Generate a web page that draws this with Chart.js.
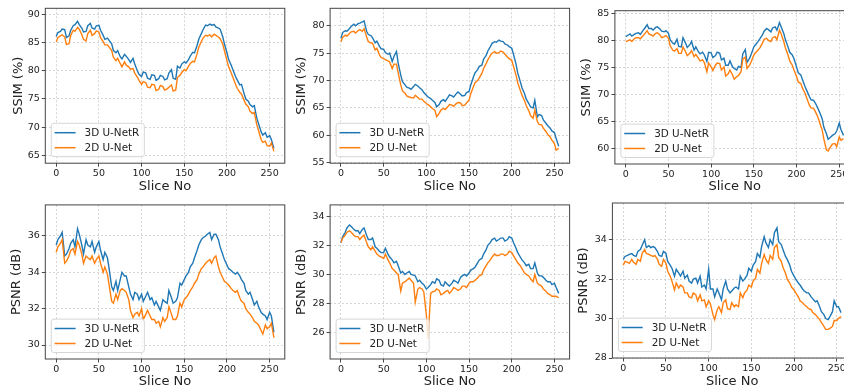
<!DOCTYPE html>
<html>
<head>
<meta charset="utf-8">
<script src="https://cdn.jsdelivr.net/npm/chart.js@4.4.1/dist/chart.umd.min.js"></script>
<style>
  html, body { margin: 0; padding: 0; background: #fff; width: 844px; height: 388px; overflow: hidden; }
  canvas { position: absolute; }
</style>
</head>
<body>
<script>
// Slice numbers (x values), one row = 25 slices
const slices = [
  0, 2, 5, 7, 10, 12, 15, 17, 20, 22,
  25, 27, 30, 32, 35, 37, 40, 42, 45, 47,
  50, 52, 55, 57, 60, 62, 65, 67, 70, 72,
  75, 77, 80, 82, 85, 87, 90, 92, 95, 97,
  100, 102, 105, 107, 110, 112, 115, 117, 120, 122,
  125, 127, 130, 132, 135, 137, 140, 142, 145, 147,
  150, 152, 155, 157, 160, 162, 165, 167, 170, 172,
  175, 177, 180, 182, 185, 187, 190, 192, 195, 197,
  200, 202, 205, 207, 210, 212, 215, 217, 220, 222,
  225, 227, 230, 232, 235, 237, 240, 242, 245, 247,
  250, 252, 255
];

const seriesNames = ['3D U-NetR', '2D U-Net'];
const xTicks = [0, 50, 100, 150, 200, 250];

// SSIM (%) - left
const ssim3dA = [
  86.1, 86.8, 87.0, 87.4, 87.3, 85.9, 86.2, 87.2, 88.0, 88.2,
  88.8, 88.2, 87.6, 86.9, 87.0, 88.0, 88.4, 87.6, 87.4, 88.0,
  88.1, 87.2, 86.3, 85.6, 85.8, 85.4, 84.8, 83.6, 83.2, 83.6,
  82.5, 82.1, 82.9, 82.6, 82.0, 81.5, 82.2, 81.2, 80.0, 79.4,
  79.0, 79.8, 79.6, 78.7, 78.5, 79.3, 79.2, 78.3, 78.6, 79.2,
  79.0, 78.4, 78.6, 79.6, 80.2, 78.7, 78.5, 80.8, 80.5, 81.2,
  81.6, 81.4, 82.0, 82.6, 83.3, 83.2, 84.5, 85.6, 86.6, 87.3,
  88.1, 88.0, 88.3, 88.1, 88.2, 87.8, 87.6, 87.4, 86.1, 84.8,
  83.2, 82.0, 81.0, 80.2, 79.0, 78.4, 77.5, 77.6, 76.0, 75.0,
  74.6, 74.0, 73.6, 73.8, 71.6, 70.6, 69.2, 68.6, 69.0, 68.2,
  68.5, 67.8, 66.2
];
const ssim2dA = [
  85.1, 85.9, 86.2, 86.4, 86.0, 84.7, 84.8, 86.3, 87.2, 87.0,
  87.7, 87.4, 86.4, 85.6, 85.3, 86.6, 87.2, 86.3, 86.6, 87.1,
  86.9, 85.9, 85.2, 84.6, 84.6, 84.2, 83.6, 82.4, 81.8, 82.2,
  81.3, 80.7, 81.6, 81.0, 80.7, 80.3, 80.4, 79.6, 78.9, 78.3,
  77.6, 78.1, 77.9, 77.1, 77.0, 77.6, 77.5, 76.5, 76.7, 77.4,
  77.2, 76.6, 76.8, 77.1, 77.5, 76.4, 76.6, 78.8, 79.2, 79.7,
  80.2, 80.0, 80.8, 81.3, 81.7, 81.6, 83.0, 84.2, 85.2, 85.8,
  86.3, 86.2, 86.4, 86.0, 86.5, 86.3, 86.0, 85.7, 84.8, 83.6,
  81.8, 80.7, 79.6, 78.8, 77.6, 76.9, 76.2, 75.9, 74.8, 74.1,
  73.6, 72.8, 72.4, 72.6, 70.4, 69.4, 67.8, 67.3, 67.5, 66.7,
  66.6, 67.2, 65.7
];
const ssimTicksA = [65, 70, 75, 80, 85, 90];

// SSIM (%) - middle
const ssim3dB = [
  77.7, 78.8, 79.1, 79.0, 79.5, 79.9, 80.3, 80.0, 80.4, 80.5,
  80.7, 80.9, 79.0, 78.4, 78.2, 77.8, 76.9, 77.2, 76.3, 75.8,
  75.7, 75.1, 74.8, 75.0, 73.5, 74.4, 75.3, 73.2, 71.0, 69.8,
  69.2, 68.8, 68.6, 68.4, 68.9, 69.3, 69.0, 68.7, 68.3, 67.8,
  67.3, 67.0, 66.7, 66.4, 66.0, 65.2, 65.6, 66.2, 66.5, 66.2,
  66.9, 67.4, 67.2, 67.0, 67.6, 67.9, 67.5, 67.2, 67.3, 67.8,
  68.0, 69.2, 70.6, 71.4, 72.0, 72.6, 72.8, 73.9, 74.6, 75.4,
  76.2, 76.8, 77.1, 77.0, 77.4, 77.2, 77.1, 76.7, 76.5, 76.2,
  75.9, 74.8, 73.0, 71.4, 69.8, 68.7, 67.6, 66.6, 65.8, 65.2,
  65.0, 66.4, 63.4, 63.8, 63.6, 62.8, 62.2, 61.8, 61.3, 60.8,
  60.5, 59.4, 58.0
];
const ssim2dB = [
  77.1, 77.9, 78.3, 78.1, 78.6, 78.9, 79.0, 78.7, 79.1, 79.3,
  79.0, 79.5, 78.0, 77.1, 76.9, 76.8, 75.6, 75.9, 74.7, 74.2,
  74.0, 73.8, 73.6, 73.4, 72.2, 73.0, 73.0, 71.4, 69.2, 68.1,
  67.7, 67.2, 67.0, 66.9, 66.8, 67.3, 66.9, 66.6, 66.6, 66.2,
  65.8, 65.6, 65.2, 64.9, 64.6, 63.4, 64.0, 64.6, 64.9, 64.7,
  65.2, 65.6, 65.5, 65.3, 65.8, 66.0, 65.9, 65.4, 65.5, 65.9,
  66.4, 67.6, 68.8, 69.6, 70.0, 70.5, 71.3, 72.2, 73.1, 73.8,
  74.6, 75.0, 75.3, 75.0, 75.1, 75.4, 75.2, 74.8, 74.3, 74.0,
  73.7, 72.6, 71.0, 69.6, 68.2, 67.3, 66.3, 65.4, 64.5, 63.6,
  63.1, 64.6, 62.5, 62.0, 61.9, 61.3, 60.7, 60.2, 59.7, 59.1,
  58.5, 57.3, 57.6
];
const ssimTicksB = [55, 60, 65, 70, 75, 80];

// SSIM (%) - right
const ssim3dC = [
  80.8, 81.0, 81.3, 80.9, 81.2, 81.4, 81.5, 81.2, 81.9, 82.3,
  83.0, 82.3, 82.3, 82.0, 82.5, 82.6, 82.2, 81.8, 81.7, 81.9,
  81.4, 80.2, 79.6, 79.4, 80.3, 79.0, 78.9, 80.6, 79.6, 78.8,
  79.3, 79.9, 78.3, 78.9, 78.0, 77.6, 77.9, 77.4, 76.2, 77.9,
  77.8, 76.9, 77.3, 77.9, 77.7, 76.5, 76.8, 75.5, 75.5, 76.3,
  75.2, 74.9, 74.6, 75.3, 75.1, 77.6, 78.4, 76.0, 76.8, 77.6,
  78.9, 79.3, 79.9, 80.4, 81.1, 81.8, 82.3, 82.1, 81.7, 82.4,
  82.6, 82.0, 83.4, 82.6, 81.4, 80.2, 78.9, 77.9, 77.4, 76.7,
  75.2, 74.1, 73.7, 72.8, 71.5, 70.8, 69.7, 69.1, 69.0, 68.5,
  67.5, 66.8, 65.6, 64.0, 62.8, 61.8, 62.2, 62.5, 62.8, 63.3,
  64.8, 63.6, 62.5
];
const ssim2dC = [
  79.9, 80.0, 80.2, 79.9, 80.4, 80.6, 80.6, 80.4, 80.9, 81.3,
  81.9, 81.3, 81.1, 80.9, 81.4, 81.5, 81.1, 80.6, 80.8, 81.0,
  80.5, 79.1, 78.3, 78.1, 78.6, 77.7, 77.7, 78.9, 78.0, 77.3,
  77.7, 78.2, 77.1, 77.5, 76.8, 76.3, 76.5, 76.0, 74.3, 75.9,
  75.2, 74.5, 75.5, 75.9, 75.8, 74.6, 75.2, 73.5, 73.9, 74.6,
  73.7, 72.9, 73.4, 73.6, 74.3, 76.6, 77.0, 74.9, 75.5, 76.2,
  77.4, 77.8, 78.3, 78.7, 79.6, 80.3, 80.5, 80.1, 79.9, 80.6,
  80.8, 80.2, 82.0, 81.3, 79.9, 78.7, 77.4, 76.3, 75.5, 74.6,
  73.4, 72.4, 72.1, 71.2, 70.3, 69.4, 68.1, 67.6, 67.5, 66.9,
  65.9, 64.9, 63.5, 61.8, 59.8, 59.6, 60.4, 60.9, 61.0, 60.4,
  62.2, 61.6, 61.9
];
const ssimTicksC = [60, 65, 70, 75, 80, 85];

// PSNR (dB) - left
const psnr3dA = [
  35.5, 35.8, 36.0, 36.2, 34.9, 35.0, 35.3, 35.6, 35.8, 35.4,
  36.4, 36.1, 35.5, 35.0, 35.8, 35.5, 35.4, 35.7, 35.1, 35.4,
  35.7, 35.2, 34.7, 35.1, 34.8, 34.2, 33.2, 33.0, 33.5, 33.0,
  33.6, 34.0, 33.8, 33.8, 33.2, 32.8, 32.5, 32.9, 32.8, 32.5,
  32.8, 32.4, 32.7, 32.9, 32.5, 32.6, 32.2, 32.4, 32.1, 31.9,
  32.5, 32.4, 32.3, 33.0, 32.6, 32.3, 32.4, 32.6, 33.4, 33.3,
  33.6, 33.8, 34.0, 34.3, 34.5, 34.8, 35.2, 35.5, 35.8, 35.9,
  36.0, 36.1, 36.2, 35.8, 36.1, 36.1, 35.8, 35.4, 35.0, 34.7,
  34.4, 34.2, 34.1, 34.0, 33.9, 34.0, 33.8, 33.6, 33.4, 33.0,
  32.8, 32.9, 32.5, 32.2, 32.4, 32.1, 31.8, 31.7, 31.6, 31.4,
  31.8, 31.6, 30.7
];
const psnr2dA = [
  35.1, 35.4, 35.6, 35.8, 34.5, 34.6, 34.9, 35.2, 35.3, 35.0,
  35.7, 35.5, 35.0, 34.5, 34.9, 34.8, 34.7, 34.9, 34.5, 34.7,
  34.9, 34.5, 34.0, 34.3, 33.9, 33.3, 32.4, 32.3, 32.8, 32.5,
  33.0, 33.1, 33.0, 32.9, 32.5, 31.9, 31.5, 31.7, 31.8, 31.6,
  32.0, 31.4, 31.7, 31.9, 31.6, 31.4, 31.4, 31.2, 31.3, 31.0,
  31.5, 31.3, 31.5, 32.1, 31.7, 31.4, 31.4, 31.6, 32.3, 32.1,
  32.5, 32.6, 32.8, 33.0, 33.2, 33.4, 33.6, 33.9, 34.2, 34.3,
  34.5, 34.6, 34.7, 34.5, 34.8, 34.9, 34.3, 34.0, 33.7, 33.5,
  33.4, 33.3, 33.1, 33.0, 32.9, 33.0, 32.6, 32.4, 32.3, 32.0,
  31.8, 31.7, 31.5, 31.3, 31.2, 31.1, 30.8, 30.6, 31.1, 30.9,
  31.0, 31.2, 30.4
];
const psnrTicksA = [30, 32, 34, 36];

// PSNR (dB) - middle
const psnr3dB = [
  32.2, 32.6, 32.9, 33.2, 33.4, 33.3, 33.1, 33.0, 33.0, 32.8,
  33.1, 33.2, 32.7, 32.4, 32.4, 32.5, 31.9, 31.8, 31.6, 31.5,
  31.5, 31.8, 31.4, 31.2, 31.0, 30.8, 30.9, 30.6, 30.1, 30.2,
  30.0, 30.1, 30.2, 30.0, 29.95, 29.9, 29.5, 29.6, 29.4, 29.3,
  29.0, 29.1, 29.3, 29.5, 29.4, 29.7, 29.6, 29.3, 29.2, 29.5,
  29.3, 29.2, 29.4, 29.6, 29.5, 29.4, 29.8, 29.9, 30.0, 29.9,
  30.1, 30.3, 30.4, 30.5, 30.8, 31.0, 31.1, 31.4, 31.7, 32.0,
  32.2, 32.4, 32.5, 32.3, 32.4, 32.5, 32.5, 32.3, 32.4, 32.6,
  32.5, 32.2, 31.8, 31.5, 31.2, 31.0, 30.8, 30.6, 30.7, 30.4,
  30.4, 30.8, 30.1, 29.9, 29.9, 29.8, 29.6, 29.5, 29.5, 29.3,
  29.4, 29.1, 28.7
];
const psnr2dB = [
  32.2, 32.5, 32.7, 32.9, 33.0, 32.9, 32.7, 32.6, 32.6, 32.4,
  32.6, 32.7, 32.2, 31.9, 31.7, 31.9, 31.6, 31.4, 31.25, 31.2,
  31.1, 31.4, 31.0, 30.8, 30.4, 30.3, 30.1, 30.0, 28.85, 29.4,
  29.5, 29.6, 29.75, 29.6, 29.4, 28.1, 29.0, 29.1, 29.0, 28.8,
  27.2, 25.6, 28.7, 28.8, 28.85, 29.0, 28.9, 28.6, 28.7, 28.8,
  28.9, 28.7, 28.9, 29.1, 29.0, 28.9, 29.0, 29.2, 29.2, 29.1,
  29.4, 29.5, 29.5, 29.6, 29.75, 29.9, 30.0, 30.3, 30.6, 30.8,
  31.0, 31.2, 31.4, 31.3, 31.3, 31.4, 31.4, 31.3, 31.4, 31.6,
  31.5, 31.3, 31.0, 30.8, 30.6, 30.4, 30.1, 30.0, 29.9, 29.7,
  29.5, 30.0, 29.4, 29.3, 29.2, 29.0, 28.85, 28.7, 28.6, 28.5,
  28.5, 28.5, 28.4
];
const psnrTicksB = [26, 28, 30, 32, 34];

// PSNR (dB) - right
const psnr3dC = [
  33.0, 33.15, 33.2, 33.25, 33.3, 33.2, 33.15, 33.4, 33.5, 33.7,
  34.0, 33.6, 33.7, 33.6, 33.65, 33.6, 33.4, 33.2, 33.15, 33.4,
  33.3, 32.9, 32.7, 32.55, 32.15, 32.5, 32.3, 32.15, 32.4, 32.05,
  32.2, 31.9, 31.8, 32.0, 32.05, 31.8, 32.15, 31.6, 31.7, 31.5,
  32.5, 31.5, 31.5, 31.1, 31.5, 31.3, 30.95, 31.5, 31.9, 31.5,
  31.3, 31.4, 31.55, 31.6, 31.5, 32.15, 31.9, 32.0, 32.2, 32.55,
  32.4, 32.7, 32.9, 33.3, 33.1, 33.65, 34.15, 33.85, 33.6, 34.0,
  33.75, 34.35, 34.6, 33.9, 33.75, 33.5, 33.15, 33.0, 32.7, 32.4,
  32.15, 32.0, 31.8, 31.7, 31.5, 31.4, 31.3, 31.3, 31.1, 31.0,
  30.85, 30.9, 30.6, 30.35, 30.2, 30.0, 29.95, 30.1, 30.35, 30.9,
  30.6, 30.6, 30.3
];
const psnr2dC = [
  32.7, 32.9, 32.85, 32.8, 33.0, 32.85, 32.75, 33.0, 32.9, 33.3,
  33.5, 33.3, 33.25, 33.2, 33.15, 33.2, 33.0, 32.75, 32.65, 33.0,
  32.8, 32.4, 32.15, 31.9, 31.45, 31.8, 31.55, 31.7, 31.6, 31.3,
  31.3, 31.1, 31.05, 31.3, 31.2, 30.9, 31.2, 30.9, 30.95, 30.6,
  30.9, 30.75, 30.2, 29.95, 30.45, 30.6, 30.3, 30.8, 30.95, 30.5,
  30.45, 30.8, 30.6, 30.7, 30.6, 31.3, 31.05, 31.3, 31.45, 31.7,
  31.6, 31.9, 32.05, 32.5, 32.3, 32.8, 33.25, 33.0, 32.8, 33.2,
  33.0, 33.6, 33.75, 33.1, 32.9, 32.6, 32.3, 32.0, 31.8, 31.6,
  31.45, 31.3, 31.1, 30.9, 30.8, 30.7, 30.6, 30.5, 30.45, 30.3,
  30.2, 30.1, 29.95, 29.8, 29.6, 29.45, 29.45, 29.5, 29.6, 29.9,
  29.9, 30.0, 30.1
];
const psnrTicksC = [28, 30, 32, 34];

const BLUE = '#1f77b4';
const ORANGE = '#ff7f0e';
const TEXT = '#222';
const FONT = '"DejaVu Sans", sans-serif';
const TITLE_SIZE = 13;
const LH = TITLE_SIZE * 1.2;

// box = [left, top, right, bottom] of the axes frame, tx/ty = axis title centres
const panels = [
  { title: 'SSIM (%)', a: ssim3dA, b: ssim2dA, yMin: 63.6, yMax: 91.1, yTicks: ssimTicksA, box: [45.3, 8.3, 284.8, 163.2], tx: 18.3, ty: 187 },
  { title: 'SSIM (%)', a: ssim3dB, b: ssim2dB, yMin: 54.9, yMax: 83.2, yTicks: ssimTicksB, box: [330.1, 8.3, 569.6, 163.2], tx: 301.7, ty: 187 },
  { title: 'SSIM (%)', a: ssim3dC, b: ssim2dC, yMin: 57.2, yMax: 85.6, yTicks: ssimTicksC, box: [614.9, 10.7, 854.4, 164], tx: 586.7, ty: 186.5 },
  { title: 'PSNR (dB)', a: psnr3dA, b: psnr2dA, yMin: 29.23, yMax: 37.71, yTicks: psnrTicksA, box: [45.3, 204.9, 284.8, 359], tx: 16.7, ty: 382 },
  { title: 'PSNR (dB)', a: psnr3dB, b: psnr2dB, yMin: 24.19, yMax: 34.78, yTicks: psnrTicksB, box: [330.1, 204.9, 569.6, 359], tx: 301.7, ty: 382 },
  { title: 'PSNR (dB)', a: psnr3dC, b: psnr2dC, yMin: 28, yMax: 35.86, yTicks: psnrTicksC, box: [612.4, 203, 851.9, 358], tx: 584, ty: 382 }
];

// axes frame + legend inside the lower-left corner
const frameLegend = {
  id: 'frameLegend',
  afterDraw(chart) {
    const { ctx, chartArea: a } = chart;
    ctx.save();
    ctx.strokeStyle = '#444';
    ctx.lineWidth = 1;
    ctx.strokeRect(a.left, a.top, a.right - a.left, a.bottom - a.top);

    const fs = 10.4;
    ctx.font = fs + 'px ' + FONT;
    const textW = Math.max(...seriesNames.map(n => ctx.measureText(n).width));
    const h = 33.4;
    const w = 33.3 + textW + 5;
    const x0 = a.left + 6;
    const y0 = a.bottom - 6.5 - h;
    ctx.beginPath();
    ctx.roundRect(x0, y0, w, h, 2.5);
    ctx.fillStyle = 'rgba(255,255,255,0.8)';
    ctx.fill();
    ctx.strokeStyle = '#d6d6d6';
    ctx.lineWidth = 1;
    ctx.stroke();

    const colors = [BLUE, ORANGE];
    seriesNames.forEach((n, i) => {
      const y = y0 + 9.4 + i * 15;
      ctx.beginPath();
      ctx.moveTo(x0 + 3.3, y);
      ctx.lineTo(x0 + 24.3, y);
      ctx.strokeStyle = colors[i];
      ctx.lineWidth = 1.5;
      ctx.stroke();
      ctx.fillStyle = TEXT;
      ctx.textBaseline = 'middle';
      ctx.textAlign = 'left';
      ctx.fillText(n, x0 + 33.3, y + 0.5);
    });
    ctx.restore();
  }
};

Chart.defaults.font.family = FONT;
Chart.defaults.color = TEXT;

panels.forEach(p => {
  const [l, t, r, b] = p.box;
  const cl = Math.floor(p.tx - LH / 2);
  const ct = Math.floor(t) - 2;
  const cr = Math.ceil(r) + 2;
  const cb = Math.ceil(p.ty + LH / 2);

  const cv = document.createElement('canvas');
  cv.width = cr - cl;
  cv.height = cb - ct;
  cv.style.left = cl + 'px';
  cv.style.top = ct + 'px';
  cv.style.width = (cr - cl) + 'px';
  cv.style.height = (cb - ct) + 'px';
  document.body.appendChild(cv);

  const gridOpts = {
    color: '#cccccc',
    lineWidth: 0.8,
    drawTicks: true,
    tickLength: 3.5,
    tickColor: '#333',
    tickWidth: 0.9,
    tickBorderDash: []
  };

  new Chart(cv, {
    type: 'line',
    data: {
      datasets: [
        { label: seriesNames[0], data: slices.map((x, i) => ({ x: x, y: p.a[i] })), borderColor: BLUE, order: 1 },
        { label: seriesNames[1], data: slices.map((x, i) => ({ x: x, y: p.b[i] })), borderColor: ORANGE, order: 0 }
      ]
    },
    options: {
      responsive: false,
      animation: false,
      devicePixelRatio: 1,
      layout: { padding: { left: 0, top: t - ct, right: cr - r, bottom: 0 } },
      elements: {
        point: { radius: 0 },
        line: { borderWidth: 1.4, tension: 0, fill: false }
      },
      plugins: { legend: { display: false }, tooltip: { enabled: false } },
      scales: {
        x: {
          type: 'linear',
          min: -12.75,
          max: 267.75,
          afterBuildTicks: s => { s.ticks = xTicks.map(v => ({ value: v })); },
          afterFit: s => { s.height = cb - b; s.paddingLeft = 0; s.paddingRight = 0; },
          ticks: { font: { size: 9.5 }, padding: 1, maxRotation: 0, autoSkip: false, callback: v => String(v) },
          grid: gridOpts,
          border: { display: false, dash: [2, 2] },
          title: {
            display: true, text: 'Slice No', color: TEXT,
            font: { size: TITLE_SIZE },
            padding: { top: 0, bottom: cb - LH / 2 - p.ty }
          }
        },
        y: {
          type: 'linear',
          min: p.yMin,
          max: p.yMax,
          afterBuildTicks: s => { s.ticks = p.yTicks.map(v => ({ value: v })); },
          afterFit: s => { s.width = l - cl; s.paddingTop = 0; s.paddingBottom = 0; },
          ticks: { font: { size: 9.5 }, padding: 2, autoSkip: false, callback: v => String(v) },
          grid: gridOpts,
          border: { display: false, dash: [2, 2] },
          title: {
            display: true, text: p.title, color: TEXT,
            font: { size: TITLE_SIZE },
            padding: { top: p.tx - LH / 2 - cl, bottom: 0 }
          }
        }
      }
    },
    plugins: [frameLegend]
  });
});
</script>
</body>
</html>
